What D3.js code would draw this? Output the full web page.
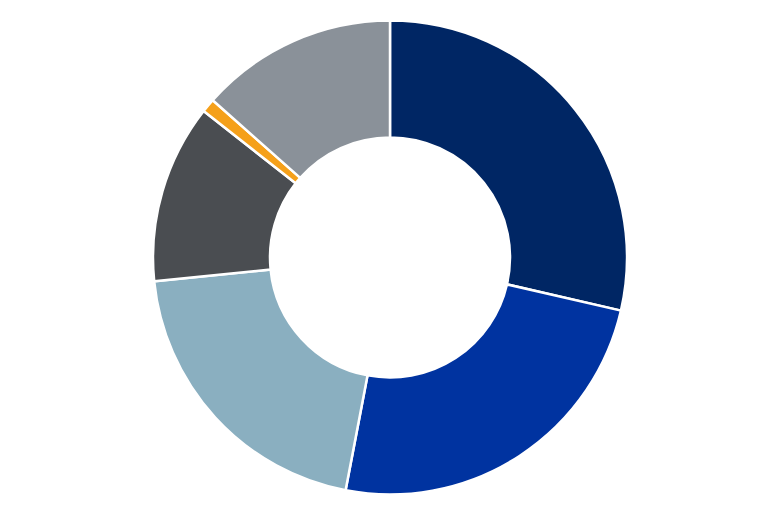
<!DOCTYPE html>
<meta charset="utf-8">
<script src="https://d3js.org/d3.v7.min.js"></script>
<style>body{margin:0;background:#fff}</style>
<div id="chart"></div>
<script>
    // slice values (share of total), clockwise from 12 o'clock
    const categories = ["A", "B", "C", "D", "E", "F"]
    const values = [28.6, 24.4, 20.4, 12.2, 0.95, 13.45]
    const colors = ["#002664", "#0033a0", "#8aafc0", "#4a4d51", "#f5a01a", "#8a9199"]

    const width = 778, height = 518
    const cx = 390, cy = 257.5
    const outerR = 237, innerR = 120

    const svg = d3.select("#chart")
        .append("svg")
        .attr("width", width)
        .attr("height", height)
        .append("g")
        .attr("transform", `translate(${cx},${cy})`)

    const pie = d3.pie().sort(null).value(d => d.value)
    const arc = d3.arc().innerRadius(innerR).outerRadius(outerR)

    const data = categories.map((c, i) => ({cat: c, value: values[i], color: colors[i]}))

    svg.selectAll("path")
        .data(pie(data))
        .join("path")
        .attr("d", arc)
        .attr("fill", d => d.data.color)
        .attr("stroke", "#fff")
        .attr("stroke-width", 2.5)
</script>
